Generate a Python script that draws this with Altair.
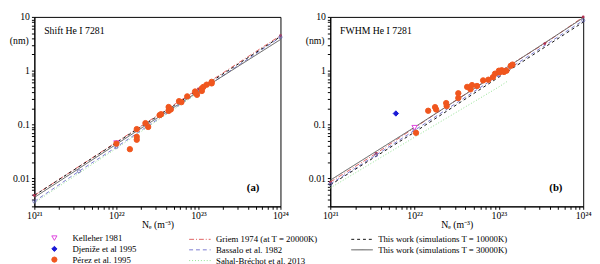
import altair as alt
import pandas as pd

FONT = "Liberation Serif"

# ---------------- data ----------------
L_GRIEM = "Griem 1974 (at T = 20000K)"
L_BASSALO = "Bassalo et al. 1982"
L_SAHAL = "Sahal-Bréchot et al. 2013"
L_TW10 = "This work (simulations T = 10000K)"
L_TW30 = "This work (simulations T = 30000K)"
LINE_ORDER = [L_GRIEM, L_BASSALO, L_SAHAL, L_TW10, L_TW30]
LINE_COLORS = ["#e06060", "#7a7ad0", "#8fe08f", "#111111", "#555555"]
LINE_DASH = [[5, 2, 1, 2], [4, 3], [1, 2], [3, 3], [1, 0]]

P_KEL = "Kelleher 1981"
P_DJE = "Djeniže et al 1995"
P_PER = "Pérez et al. 1995"
PT_ORDER = [P_KEL, P_DJE, P_PER]
PT_STROKE = ["#dd44dd", "#1a1ad6", "#f0561e"]
PT_FILL = ["white", "#1a1ad6", "#f0561e"]
PT_SHAPE = ["triangle-down", "diamond", "circle"]

# Panel (a): Shift
A_GRIEM_NE = [1e21, 1e22, 1e23, 1e24]
A_GRIEM = [0.0048, 0.047, 0.46, 4.5]
A_BASSALO_NE = [1e21, 3.5e21, 1e22, 1e23, 1e24]
A_BASSALO = [0.0037, 0.0135, 0.038, 0.40, 4.2]
A_SAHAL_NE = [1e21, 1e22, 1e23, 1.5e23]
A_SAHAL = [0.0035, 0.036, 0.39, 0.62]
A_TW10_NE = [1e21, 1e22, 1e23, 1e24]
A_TW10 = [0.0048, 0.046, 0.44, 4.3]
A_TW30_NE = [1e21, 1e22, 1e23, 1e24]
A_TW30 = [0.0044, 0.043, 0.41, 3.8]

A_KEL_NE = [1.0e22]
A_KEL = [0.045]
A_DJE_NE = []
A_DJE = []
A_PER_NE = [1.0e22, 1.46e22, 1.77e22, 1.77e22, 1.77e22, 2.26e22, 2.44e22, 3.36e22,
            3.5e22, 4.33e22, 4.33e22, 4.6e22, 5.8e22, 6.2e22, 7.3e22, 9.1e22,
            9.6e22, 9.3e22, 1.1e23, 1.15e23, 1.1e23, 1.26e23, 1.45e23, 1.45e23]
A_PER = [0.044, 0.0347, 0.059, 0.052, 0.082, 0.106, 0.090, 0.149,
         0.155, 0.211, 0.179, 0.19, 0.271, 0.26, 0.333, 0.41,
         0.356, 0.38, 0.47, 0.50, 0.42, 0.55, 0.58, 0.62]

# Panel (b): FWHM
B_GRIEM_NE = [1e21, 3.5e21, 1e22, 1e23, 3.5e23, 1e24]
B_GRIEM = [0.0085, 0.029, 0.087, 0.95, 3.2, 10.0]
B_BASSALO_NE = [1e21, 3.5e21, 1e22, 1e23, 1e24]
B_BASSALO = [0.0078, 0.027, 0.078, 0.82, 8.6]
B_SAHAL_NE = [1e21, 1e22, 1e23, 1.25e23]
B_SAHAL = [0.0066, 0.058, 0.50, 0.63]
B_TW10_NE = [1e21, 1e22, 1e23, 1e24]
B_TW10 = [0.0075, 0.072, 0.76, 8.0]
B_TW30_NE = [1e21, 1e22, 1e23, 1e24]
B_TW30 = [0.0092, 0.089, 0.92, 9.6]

B_KEL_NE = [1.0e22]
B_KEL = [0.087]
B_DJE_NE = [6.0e21]
B_DJE = [0.16]
B_PER_NE = [1.04e22, 1.45e22, 1.75e22, 1.8e22, 2.37e22, 2.4e22, 3.3e22, 3.3e22,
            4.2e22, 4.8e22, 4.6e22, 5.5e22, 6.5e22, 7.5e22, 8.5e22, 9e22,
            1.0e23, 1.02e23, 1.08e23, 1.15e23, 1.23e23, 1.38e23, 1.45e23]
B_PER = [0.070, 0.18, 0.21, 0.19, 0.25, 0.22, 0.38, 0.31,
         0.50, 0.54, 0.45, 0.52, 0.66, 0.68, 0.76, 0.88,
         1.0, 0.93, 1.02, 0.95, 1.0, 1.23, 1.3]


def long_lines(spec):
    rows = []
    for name, ne, vals in spec:
        for n, v in zip(ne, vals):
            rows.append({"Ne": n, "val": v, "line": name})
    return pd.DataFrame(rows)


def long_points(spec):
    rows = []
    for name, ne, vals in spec:
        for n, v in zip(ne, vals):
            rows.append({"Ne": n, "val": v, "src": name})
    return pd.DataFrame(rows)


x_minor = [m * 10 ** e for e in range(21, 24) for m in range(1, 10)] + [1e24]
y_minor = [m * 10 ** e for e in range(-3, 1) for m in range(1, 10)] + [10]
y_minor = [v for v in y_minor if v >= 0.003]

x_label_expr = ("datum.value == 1e21 ? '10²¹' : datum.value == 1e22 ? '10²²' : "
                "datum.value == 1e23 ? '10²³' : datum.value == 1e24 ? '10²⁴' : ''")
y_label_expr = ("(datum.value == 0.01 || datum.value == 0.1 || datum.value == 1 || "
                "datum.value == 10) ? format(datum.value, '~g') : ''")

pt_legend = alt.Legend(orient="none", legendX=16, legendY=222, title=None,
                       labelFontSize=9, labelFont=FONT, rowPadding=0, padding=0,
                       symbolSize=28, labelOffset=14, symbolStrokeWidth=1)
ln_legend = alt.Legend(orient="none", legendX=164, legendY=222, title=None,
                       labelFontSize=9, labelFont=FONT, rowPadding=0, padding=0,
                       columns=2, columnPadding=31, symbolType="M-2.2,0H2.2",
                       symbolSize=100, symbolStrokeWidth=1, labelOffset=11)


def panel(lines_df, pts_df, griem_df, bass_df, title, tag, width):
    height = 194
    xs = alt.X("Ne:Q", scale=alt.Scale(type="log", domain=[1e21, 1e24], nice=False),
               axis=alt.Axis(values=x_minor, labelExpr=x_label_expr, title="Nₑ (m⁻³)",
                             grid=False, tickSize=3, labelFontSize=10, labelPadding=1,
                             titleFontSize=10, titleFontWeight="normal", titlePadding=0,
                             labelFlush=False, labelOverlap=False))
    ys = alt.Y("val:Q", scale=alt.Scale(type="log", domain=[0.003, 10], nice=False),
               axis=alt.Axis(values=y_minor, labelExpr=y_label_expr, title="(nm)",
                             grid=False, tickSize=3, labelFontSize=10, labelPadding=2,
                             titleAngle=0, titleX=-16, titleY=29, titleAlign="center",
                             titleFontSize=10, titleFontWeight="normal",
                             labelFlush=False, labelOverlap=False))
    lines = alt.Chart(lines_df).mark_line(strokeWidth=1).encode(
        x=xs, y=ys,
        stroke=alt.Stroke("line:N", scale=alt.Scale(domain=LINE_ORDER, range=LINE_COLORS),
                          legend=ln_legend),
        strokeDash=alt.StrokeDash("line:N", scale=alt.Scale(domain=LINE_ORDER, range=LINE_DASH),
                                  legend=ln_legend),
    )
    gm = alt.Chart(griem_df).mark_point(filled=True, size=8, color="#b03050", opacity=1).encode(
        x="Ne:Q", y="val:Q")
    bm = alt.Chart(bass_df).mark_point(filled=False, size=10, color="#6060b0", opacity=1,
                                       strokeWidth=0.8).encode(x="Ne:Q", y="val:Q")
    pts = alt.Chart(pts_df).mark_point(filled=False, size=30, strokeWidth=1, opacity=1).encode(
        x="Ne:Q", y="val:Q",
        color=alt.Color("src:N", scale=alt.Scale(domain=PT_ORDER, range=PT_STROKE), legend=pt_legend),
        fill=alt.Fill("src:N", scale=alt.Scale(domain=PT_ORDER, range=PT_FILL), legend=pt_legend),
        shape=alt.Shape("src:N", scale=alt.Scale(domain=PT_ORDER, range=PT_SHAPE), legend=pt_legend),
    )
    title_text = alt.Chart(pd.DataFrame({"t": [title]})).mark_text(
        fontSize=10, font=FONT, align="left", baseline="middle").encode(
        text="t:N", x=alt.value(10), y=alt.value(14))
    tag_text = alt.Chart(pd.DataFrame({"t": [tag]})).mark_text(
        fontWeight="bold", fontSize=11, font=FONT).encode(
        text="t:N", x=alt.value(width - 28), y=alt.value(height - 19))
    return alt.layer(lines, gm, bm, pts, title_text, tag_text).properties(
        width=width, height=height)


a_lines = long_lines([(L_GRIEM, A_GRIEM_NE, A_GRIEM), (L_BASSALO, A_BASSALO_NE, A_BASSALO),
                      (L_SAHAL, A_SAHAL_NE, A_SAHAL), (L_TW10, A_TW10_NE, A_TW10),
                      (L_TW30, A_TW30_NE, A_TW30)])
a_pts = long_points([(P_KEL, A_KEL_NE, A_KEL), (P_DJE, A_DJE_NE, A_DJE), (P_PER, A_PER_NE, A_PER)])
b_lines = long_lines([(L_GRIEM, B_GRIEM_NE, B_GRIEM), (L_BASSALO, B_BASSALO_NE, B_BASSALO),
                      (L_SAHAL, B_SAHAL_NE, B_SAHAL), (L_TW10, B_TW10_NE, B_TW10),
                      (L_TW30, B_TW30_NE, B_TW30)])
b_pts = long_points([(P_KEL, B_KEL_NE, B_KEL), (P_DJE, B_DJE_NE, B_DJE), (P_PER, B_PER_NE, B_PER)])

pa = panel(a_lines, a_pts, pd.DataFrame({"Ne": A_GRIEM_NE, "val": A_GRIEM}),
           pd.DataFrame({"Ne": A_BASSALO_NE, "val": A_BASSALO}), "Shift He I 7281", "(a)", 252)
pb = panel(b_lines, b_pts, pd.DataFrame({"Ne": B_GRIEM_NE, "val": B_GRIEM}),
           pd.DataFrame({"Ne": B_BASSALO_NE, "val": B_BASSALO}), "FWHM He I 7281", "(b)", 259)

chart = alt.hconcat(pa, pb, spacing=15).resolve_scale(
    color="shared", fill="shared", shape="shared", stroke="shared", strokeDash="shared"
).properties(padding=0).configure(font=FONT).configure_view(
    stroke="black", strokeWidth=1
).configure_axis(domainColor="black", tickColor="black", labelColor="black",
                 titleColor="black", labelFont=FONT, titleFont=FONT)

chart.save("out.html", embed_options={"renderer": "svg", "actions": False})
